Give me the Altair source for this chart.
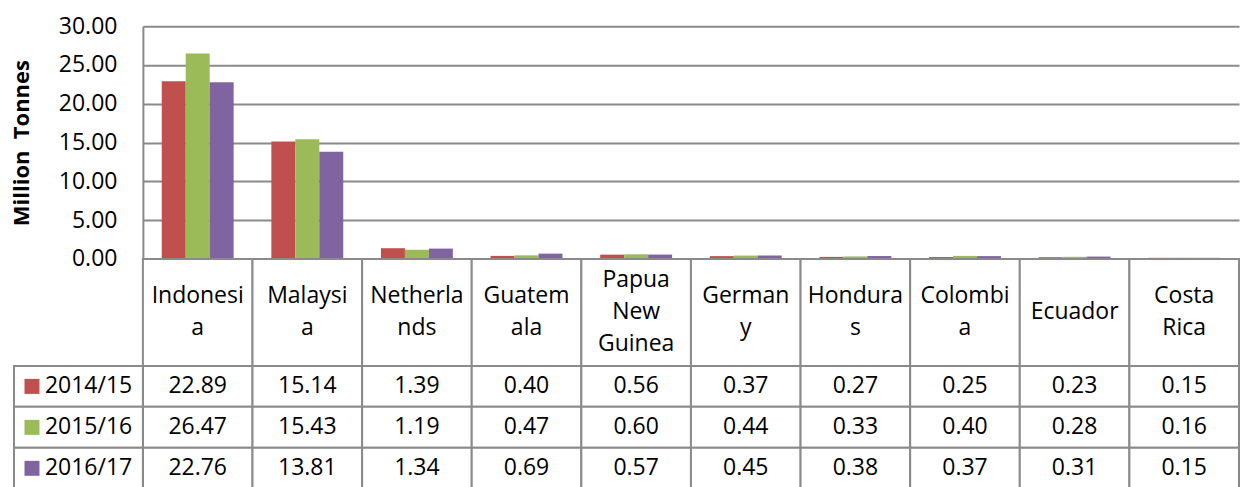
import altair as alt
import pandas as pd

categories = ["Indonesia", "Malaysia", "Netherlands", "Guatemala", "Papua New Guinea",
              "Germany", "Honduras", "Colombia", "Ecuador", "Costa Rica"]
header_labels = ["Indonesi\na", "Malaysi\na", "Netherla\nnds", "Guatem\nala", "Papua\nNew\nGuinea",
                 "German\ny", "Hondura\ns", "Colombi\na", "Ecuador", "Costa\nRica"]
years = ["2014/15", "2015/16", "2016/17"]
v_2014_15 = [22.89, 15.14, 1.39, 0.40, 0.56, 0.37, 0.27, 0.25, 0.23, 0.15]
v_2015_16 = [26.47, 15.43, 1.19, 0.47, 0.60, 0.44, 0.33, 0.40, 0.28, 0.16]
v_2016_17 = [22.76, 13.81, 1.34, 0.69, 0.57, 0.45, 0.38, 0.37, 0.31, 0.15]
colors = ["#C0504D", "#9BBB59", "#8064A2"]
y_ticks = [0, 5, 10, 15, 20, 25, 30]

rows = []
for yr, vals in zip(years, [v_2014_15, v_2015_16, v_2016_17]):
    for c, v in zip(categories, vals):
        rows.append({"country": c, "year": yr, "value": v})
df = pd.DataFrame(rows)
hdr = pd.DataFrame({"country": categories, "label": header_labels,
                    "nlines": [s.count("\n") + 1 for s in header_labels]})
yrs = pd.DataFrame({"year": years})

GRID = "#8a8a8a"
FONT = "Open Sans"
W = 1097
LH = 32

color = alt.Color("year:N", sort=years, scale=alt.Scale(domain=years, range=colors), legend=None)

top = alt.Chart(df).mark_bar().encode(
    x=alt.X("country:N", sort=categories, axis=None,
            scale=alt.Scale(paddingInner=0.344, paddingOuter=0.172)),
    xOffset=alt.XOffset("year:N", sort=years, scale=alt.Scale(paddingInner=0, paddingOuter=0)),
    y=alt.Y("value:Q", scale=alt.Scale(domain=[0, 30], nice=False),
            axis=alt.Axis(values=y_ticks, format=".2f", title="Million\u00a0\u00a0Tonnes",
                          ticks=False, labelPadding=26, labelFontSize=23, labelFont=FONT,
                          labelColor="#000", domainColor=GRID, domainWidth=2,
                          gridColor=GRID, gridWidth=2, titleFont=FONT, titleFontSize=22,
                          titleFontWeight="bold", titleColor="#000", titlePadding=25)),
    color=color,
).properties(width=W, height=233)

xcat = alt.X("country:N", sort=categories, axis=None,
             scale=alt.Scale(paddingInner=0, paddingOuter=0))

header_layers = [alt.Chart(hdr).mark_rect(fill="white", stroke=GRID, strokeWidth=2).encode(x=xcat)]
for n in (1, 2, 3):
    header_layers.append(
        alt.Chart(hdr).transform_filter(alt.datum.nlines == n).mark_text(
            font=FONT, fontSize=23, lineBreak="\n", lineHeight=LH, baseline="middle",
            color="#000", dy=-(n - 1) * LH / 2
        ).encode(x=xcat, text="label:N")
    )
header = alt.layer(*header_layers).properties(width=W, height=107)

ycat = alt.Y("year:N", sort=years, axis=None, scale=alt.Scale(paddingInner=0, paddingOuter=0))

body = alt.layer(
    alt.Chart(df).mark_rect(fill="white", stroke=GRID, strokeWidth=2).encode(x=xcat, y=ycat),
    alt.Chart(df).mark_text(font=FONT, fontSize=23, baseline="middle", color="#000").encode(
        x=xcat, y=ycat, text=alt.Text("value:Q", format=".2f")),
    alt.Chart(yrs).mark_rect(fill="white", stroke=GRID, strokeWidth=2).encode(
        x=alt.value(-129), x2=alt.value(0), y=ycat),
    alt.Chart(yrs).mark_point(shape="square", filled=True, size=225, opacity=1).encode(
        x=alt.value(-111), y=ycat, color=color),
    alt.Chart(yrs).mark_text(font=FONT, fontSize=23, align="left", baseline="middle",
                             color="#000").encode(x=alt.value(-98), y=ycat, text="year:N"),
).properties(width=W, height=123)

chart = alt.vconcat(top, header, body, spacing=0, bounds="flush").resolve_scale(
    x="independent", y="independent"
).properties(
    padding={"left": 2, "top": 7, "right": 0, "bottom": 0}
).configure_view(stroke=None)

chart.save("out.html", embed_options={"renderer": "svg", "actions": False})
